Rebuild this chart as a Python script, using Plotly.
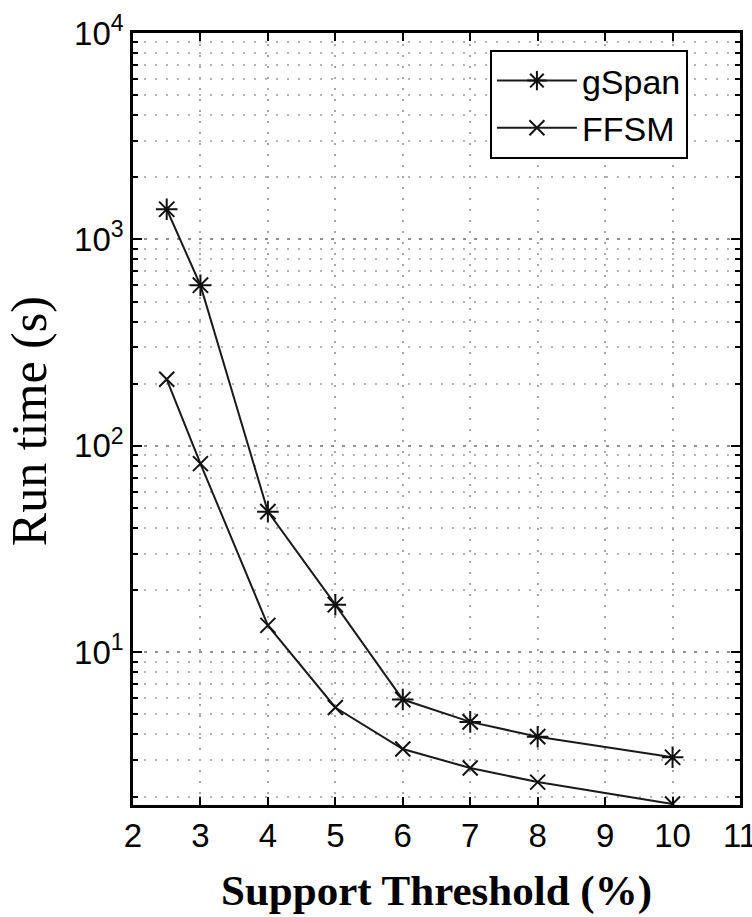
import plotly.graph_objects as go
import numpy as np

support = [2.5, 3, 4, 5, 6, 7, 8, 10]
gspan = [1400, 600, 48, 17, 5.9, 4.6, 3.9, 3.1]
ffsm = [210, 82, 13.5, 5.4, 3.4, 2.75, 2.35, 1.84]

x_ticks = [2, 3, 4, 5, 6, 7, 8, 9, 10, 11]
y_tickvals = [10, 100, 1000, 10000]
y_ticktext = ["10<sup>1</sup>", "10<sup>2</sup>", "10<sup>3</sup>", "10<sup>4</sup>"]

SANS = "Liberation Sans Narrow, Liberation Sans, Arial, sans-serif"
SERIF = "Liberation Serif, Times New Roman, serif"

fig = go.Figure()
fig.add_trace(go.Scatter(x=support, y=gspan, name="gSpan", mode="lines+markers",
                         line=dict(color="#1a1a1a", width=2),
                         marker=dict(symbol="asterisk-open", size=18, color="#111111",
                                     line=dict(width=2, color="#111111"))))
fig.add_trace(go.Scatter(x=support, y=ffsm, name="FFSM", mode="lines+markers",
                         line=dict(color="#1a1a1a", width=2),
                         marker=dict(symbol="x-thin-open", size=15, color="#111111",
                                     line=dict(width=2, color="#111111"))))

fig.update_layout(
    width=752, height=917,
    margin=dict(l=133, r=12, t=33, b=112),
    paper_bgcolor="white", plot_bgcolor="white",
    font=dict(family=SANS, size=32, color="black"),
    legend=dict(x=0.588, y=0.978, xanchor="left", yanchor="top",
                bgcolor="white", bordercolor="black", borderwidth=2,
                font=dict(size=34, family=SANS),
                itemwidth=80, entrywidth=125, entrywidthmode="pixels",
                tracegroupgap=0),
    showlegend=True,
    annotations=[dict(text="Run time (s)", textangle=-90, showarrow=False,
                      xref="paper", yref="paper", x=-0.17, y=0.497,
                      xanchor="center", yanchor="middle",
                      font=dict(family=SERIF, size=50, color="black"))],
)
fig.update_xaxes(
    range=[2, 11], tickvals=x_ticks, ticks="inside", ticklen=8, tickcolor="black",
    tickwidth=1.5, ticklabeloverflow="allow",
    showline=True, linecolor="black", linewidth=2.5, mirror="ticks",
    showgrid=True, gridcolor="#a8a8a8", griddash="2px,9px", gridwidth=1.5,
    zeroline=False, automargin=False,
    tickfont=dict(size=33, family=SANS),
    title=dict(text="<b>Support Threshold (%)</b>",
               font=dict(family=SERIF, size=43), standoff=22),
)
fig.update_yaxes(
    type="log", range=[np.log10(1.82), 4], tickvals=y_tickvals, ticktext=y_ticktext,
    ticks="inside", ticklen=9, tickcolor="black", tickwidth=1.5,
    showline=True, linecolor="black", linewidth=2.5, mirror="ticks",
    showgrid=True, gridcolor="#909090", griddash="3px,8px", gridwidth=1.5,
    minor=dict(ticks="inside", ticklen=5, tickcolor="black", showgrid=True,
               gridcolor="#b4b4b4", griddash="2px,9px", gridwidth=1.5,
               tickvals=[m * 10 ** e for e in range(0, 4) for m in range(2, 10)]),
    zeroline=False, automargin=False,
    tickfont=dict(size=33, family=SANS),
)
fig.write_html("out.html")
